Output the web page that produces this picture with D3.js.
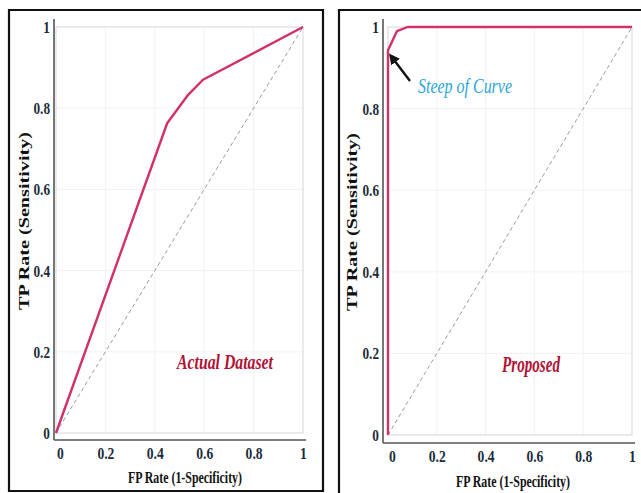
<!DOCTYPE html>
<html>
<head>
<meta charset="utf-8">
<script src="https://cdn.jsdelivr.net/npm/d3@7/dist/d3.min.js"></script>
<style>
  html, body { margin: 0; padding: 0; background: #fff; }
  svg { display: block; }
</style>
</head>
<body>
<svg id="chart" width="641" height="493"></svg>
<script>
// ---- data ----
const tickValues = [0, 0.2, 0.4, 0.6, 0.8, 1];
const tickLabels = ["0", "0.2", "0.4", "0.6", "0.8", "1"];
const actualFPR = [0, 0.45, 0.535, 0.595, 1];
const actualTPR = [0, 0.763, 0.833, 0.87, 1];
const proposedFPR = [0, 0, 0.037, 0.08, 1];
const proposedTPR = [0, 0.943, 0.99, 1, 1];
const diagFPR = [0, 1];
const diagTPR = [0, 1];

const svg = d3.select("#chart");
const curveColor = "#d2306a";
const tickColor = "#1c2b3a";

function condense(sel, k) {
  sel.each(function () {
    const w = this.getComputedTextLength();
    d3.select(this).attr("textLength", w * k).attr("lengthAdjust", "spacingAndGlyphs");
  });
}

function panel(opts) {
  const g = svg.append("g");
  g.append("path")
    .attr("d", opts.frame)
    .attr("fill", "none").attr("stroke", "#111").attr("stroke-width", 2.2);

  const x = d3.scaleLinear().domain([0, 1]).range(opts.xr);
  const y = d3.scaleLinear().domain([0, 1]).range(opts.yr);

  g.append("g").selectAll("line").data(tickValues.slice(1, -1)).join("line")
    .attr("x1", d => x(d)).attr("x2", d => x(d)).attr("y1", y(1)).attr("y2", y(0))
    .attr("stroke", "#f2f2f5").attr("stroke-width", 1);
  g.append("g").selectAll("line").data(tickValues.slice(1, -1)).join("line")
    .attr("y1", d => y(d)).attr("y2", d => y(d)).attr("x1", x(0)).attr("x2", x(1))
    .attr("stroke", "#f2f2f5").attr("stroke-width", 1);
  g.append("rect")
    .attr("x", x(0)).attr("y", y(1)).attr("width", x(1) - x(0)).attr("height", y(0) - y(1))
    .attr("fill", "none").attr("stroke", "#dcdce2").attr("stroke-width", 1.2);

  const line = d3.line().x(d => x(d[0])).y(d => y(d[1]));
  g.append("path")
    .attr("d", line(d3.zip(diagFPR, diagTPR)))
    .attr("fill", "none").attr("stroke", "#9a9aa2").attr("stroke-width", 1)
    .attr("stroke-dasharray", "4,3");

  g.append("path")
    .attr("d", line(d3.zip(opts.fpr, opts.tpr)))
    .attr("fill", "none").attr("stroke", curveColor).attr("stroke-width", 2.4)
    .attr("stroke-linejoin", "round");

  g.append("line")
    .attr("x1", opts.axX).attr("x2", opts.axX).attr("y1", y(1) - 8).attr("y2", opts.axY)
    .attr("stroke", "#555").attr("stroke-width", 1.6);
  g.append("line")
    .attr("x1", opts.axX).attr("x2", x(1) + 3).attr("y1", opts.axY).attr("y2", opts.axY)
    .attr("stroke", "#555").attr("stroke-width", 1.6);

  const xAxis = d3.axisBottom(x).tickValues(tickValues).tickSize(0)
    .tickFormat((d, i) => tickLabels[i]);
  const gx = g.append("g").attr("transform", `translate(0,${opts.axY + 4})`).call(xAxis);
  gx.select(".domain").remove();
  gx.selectAll("text")
    .attr("font-family", "Liberation Serif").attr("font-weight", "bold")
    .attr("font-size", 17).attr("fill", tickColor)
    .attr("dx", (d) => d === 0 ? 4 : 0)
    .call(condense, 0.8);

  const yAxis = d3.axisLeft(y).tickValues(tickValues).tickSize(0)
    .tickFormat((d, i) => tickLabels[i]);
  const gy = g.append("g").attr("transform", `translate(${opts.axX - 1},0)`).call(yAxis);
  gy.select(".domain").remove();
  gy.selectAll("text")
    .attr("font-family", "Liberation Serif").attr("font-weight", "bold")
    .attr("font-size", 17).attr("fill", tickColor)
    .call(condense, 0.78);

  g.append("text")
    .attr("x", opts.xTitle[0]).attr("y", opts.xTitle[1])
    .attr("text-anchor", "middle")
    .attr("font-family", "Liberation Serif").attr("font-weight", "bold")
    .attr("font-size", 17).attr("fill", "#111")
    .attr("textLength", 114).attr("lengthAdjust", "spacingAndGlyphs")
    .text("FP Rate (1-Specificity)");
  g.append("text")
    .attr("transform", `translate(${opts.yTitle[0]},${opts.yTitle[1]}) rotate(-90)`)
    .attr("text-anchor", "middle")
    .attr("font-family", "Liberation Serif").attr("font-weight", "bold")
    .attr("font-size", 15).attr("fill", "#111")
    .attr("textLength", 178).attr("lengthAdjust", "spacingAndGlyphs")
    .text("TP Rate (Sensitivity)");

  return { g, x, y };
}

const L = panel({
  frame: "M9,491 L9,10 L323,10 L323,491 Z",
  xr: [56, 303], yr: [433, 27],
  axX: 54, axY: 440,
  fpr: actualFPR, tpr: actualTPR,
  xTitle: [185, 483], yTitle: [29, 221]
});
L.g.append("text")
  .attr("x", 225).attr("y", 369).attr("text-anchor", "middle")
  .attr("font-family", "Liberation Serif").attr("font-style", "italic").attr("font-weight", "bold")
  .attr("font-size", 21).attr("fill", "#b01236")
  .attr("textLength", 96).attr("lengthAdjust", "spacingAndGlyphs")
  .text("Actual Dataset");

const R = panel({
  frame: "M339,493 L339,10 L641,10",
  xr: [388, 632], yr: [435, 27],
  axX: 383, axY: 443,
  fpr: proposedFPR, tpr: proposedTPR,
  xTitle: [513, 487], yTitle: [357, 222]
});
R.g.append("text")
  .attr("x", 531).attr("y", 372).attr("text-anchor", "middle")
  .attr("font-family", "Liberation Serif").attr("font-style", "italic").attr("font-weight", "bold")
  .attr("font-size", 23).attr("fill", "#b01236")
  .attr("textLength", 58).attr("lengthAdjust", "spacingAndGlyphs")
  .text("Proposed");
R.g.append("text")
  .attr("x", 465).attr("y", 93).attr("text-anchor", "middle")
  .attr("font-family", "Liberation Serif").attr("font-style", "italic")
  .attr("font-size", 20).attr("fill", "#2aa6d6")
  .attr("textLength", 94).attr("lengthAdjust", "spacingAndGlyphs")
  .text("Steep of Curve");

svg.append("defs").append("marker")
  .attr("id", "ah").attr("viewBox", "0 0 10 10").attr("refX", 7).attr("refY", 5)
  .attr("markerWidth", 4.5).attr("markerHeight", 4.5).attr("orient", "auto")
  .attr("markerUnits", "strokeWidth")
  .append("path").attr("d", "M0,0 L10,5 L0,10 Z").attr("fill", "#111");
svg.append("line")
  .attr("x1", 410).attr("y1", 81).attr("x2", 391).attr("y2", 56)
  .attr("stroke", "#111").attr("stroke-width", 2.4)
  .attr("marker-end", "url(#ah)");
</script>
</body>
</html>
